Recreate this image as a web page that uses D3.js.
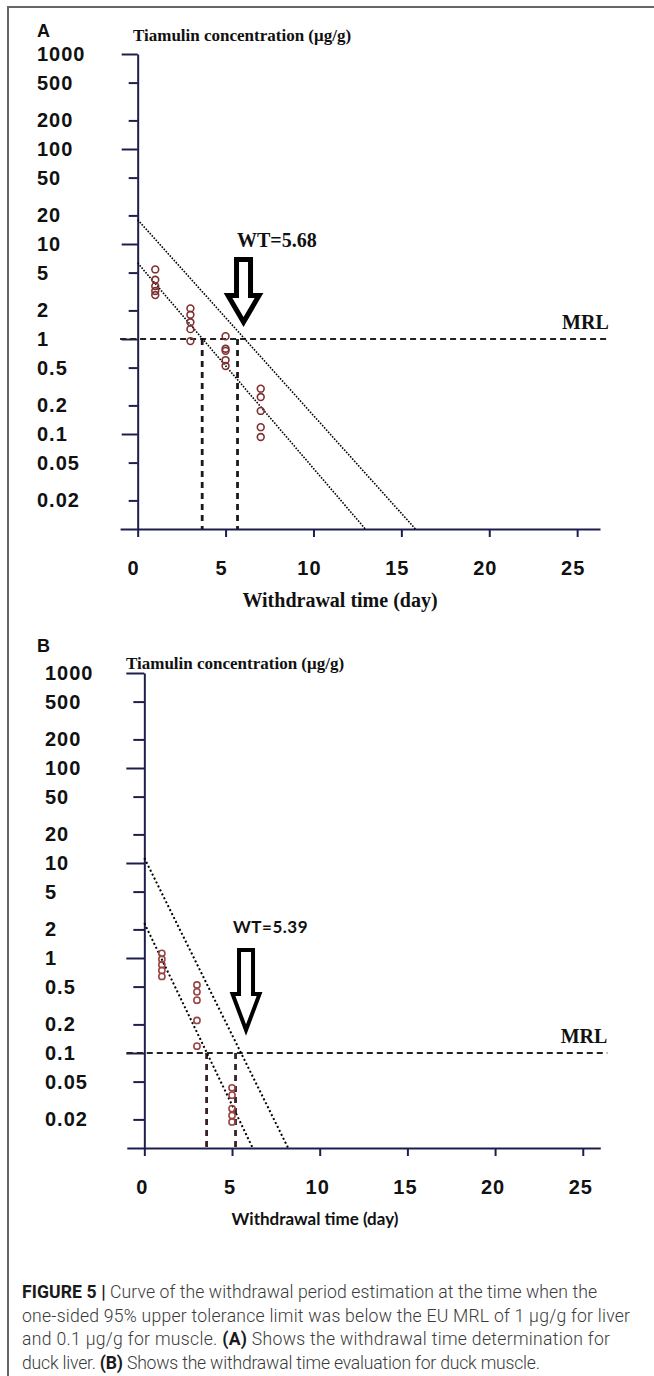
<!DOCTYPE html>
<html>
<head>
<meta charset="utf-8">
<script src="https://cdn.jsdelivr.net/npm/d3@7"></script>
<style>
  body { margin: 0; background: #fff; }
  svg { display: block; }
</style>
</head>
<body>
<svg width="654" height="1376"></svg>
<script>
// tick values shared by both panels
var yTickValues = [1000, 500, 200, 100, 50, 20, 10, 5, 2, 1, 0.5, 0.2, 0.1, 0.05, 0.02];
var yTickLabels = ["1000", "500", "200", "100", "50", "20", "10", "5", "2", "1", "0.5", "0.2", "0.1", "0.05", "0.02"];
var yMajorTicks = [1000, 100, 10, 1, 0.1];
var xTickValues = [0, 5, 10, 15, 20, 25];

// (A) duck liver
var liverDays = [1, 1, 1, 1, 1, 3, 3, 3, 3, 3, 5, 5, 5, 5, 5, 7, 7, 7, 7, 7];
var liverConc = [5.4, 4.2, 3.6, 3.2, 2.9, 2.1, 1.8, 1.5, 1.27, 0.95, 1.07, 0.79, 0.75, 0.6, 0.52, 0.3, 0.245, 0.175, 0.118, 0.093];
var liverRegression = [[0, 6.3], [12.95, 0.01]];
var liverTolerance = [[0, 18], [15.8, 0.01]];
var liverCrossDays = [3.67, 5.68];
var liverMRL = 1;

// (B) duck muscle
var muscleDays = [1, 1, 1, 1, 1, 3, 3, 3, 3, 3, 5, 5, 5, 5, 5];
var muscleConc = [1.12, 0.97, 0.85, 0.74, 0.64, 0.52, 0.44, 0.36, 0.22, 0.118, 0.043, 0.036, 0.026, 0.022, 0.0188];
var muscleRegression = [[0, 2.33], [6.18, 0.01]];
var muscleTolerance = [[0, 11.3], [8.2, 0.01]];
var muscleCrossDays = [3.55, 5.2];
var muscleMRL = 0.1;

var svg = d3.select("svg");
var AXIS = "#1e1e4e";
var SERIF = "'Liberation Serif', 'Times New Roman', serif";
var SANS = "'Liberation Sans', Arial, sans-serif";

// frame of the figure
svg.append("path")
  .attr("d", "M8,1376 V7 H654")
  .attr("fill", "none")
  .attr("stroke", "#666")
  .attr("stroke-width", 2);

function drawPanel(p) {
  var g = svg.append("g");

  var x = d3.scaleLinear().domain(p.xDomain).range(p.xRange);
  var y = d3.scaleLog().domain([0.01, 1000]).range(p.yRange);

  // panel letter
  g.append("text")
    .attr("x", 37).attr("y", p.letterY)
    .attr("font-family", SANS).attr("font-weight", "bold")
    .attr("font-size", 18).attr("fill", "#111")
    .text(p.letter);

  // y title
  g.append("text")
    .attr("x", p.titleX).attr("y", p.titleY)
    .attr("font-family", SERIF).attr("font-weight", "bold")
    .attr("font-size", 17).attr("fill", "#111")
    .text("Tiamulin concentration (\u03bcg/g)");

  // y axis
  var yAxis = g.append("g")
    .attr("transform", "translate(" + x(0) + ",0)")
    .call(d3.axisLeft(y).tickValues(yTickValues).tickFormat("").tickSizeOuter(0));
  yAxis.selectAll(".tick line")
    .attr("x2", function(d) { return yMajorTicks.indexOf(d) >= 0 ? -p.majorTick : -p.minorTick; });
  yAxis.selectAll("path, line").attr("stroke", AXIS).attr("stroke-width", 2);

  g.selectAll(".ylab")
    .data(yTickValues)
    .enter().append("text")
    .attr("x", p.yLabelX)
    .attr("y", function(d) { return y(d) + 7; })
    .attr("font-family", SANS).attr("font-weight", "bold")
    .attr("font-size", 20).attr("letter-spacing", 1).attr("fill", "#111")
    .text(function(d, i) { return yTickLabels[i]; });

  // x axis
  var xAxis = g.append("g")
    .attr("transform", "translate(0," + y(0.01) + ")")
    .call(d3.axisBottom(x).tickValues(xTickValues).tickFormat("").tickSize(8).tickSizeOuter(0));
  xAxis.selectAll("path, line").attr("stroke", AXIS).attr("stroke-width", 2);

  g.selectAll(".xlab")
    .data(xTickValues)
    .enter().append("text")
    .attr("x", function(d) { return x(d) + p.xLabelShift; })
    .attr("y", y(0.01) + 46)
    .attr("text-anchor", "middle")
    .attr("font-family", SANS).attr("font-weight", "bold")
    .attr("font-size", 20).attr("letter-spacing", 1).attr("fill", "#111")
    .text(function(d) { return d; });

  g.append("text")
    .attr("x", p.xTitleX).attr("y", p.xTitleY)
    .attr("text-anchor", "middle")
    .attr("font-family", p.xTitleFont).attr("font-weight", "bold")
    .attr("font-size", p.xTitleSize).attr("fill", "#111")
    .text("Withdrawal time (day)");

  // MRL line
  g.append("line")
    .attr("x1", x(-1)).attr("x2", x(p.mrlEnd))
    .attr("y1", y(p.mrl)).attr("y2", y(p.mrl))
    .attr("stroke", "#222").attr("stroke-width", 2)
    .attr("stroke-dasharray", "6 4");
  g.append("text")
    .attr("x", x(p.mrlEnd)).attr("y", y(p.mrl) - 10)
    .attr("text-anchor", "end")
    .attr("font-family", SERIF).attr("font-weight", "bold")
    .attr("font-size", 20).attr("fill", "#111")
    .text("MRL");

  // drops from MRL to x axis
  g.selectAll(".drop")
    .data(p.crossDays)
    .enter().append("line")
    .attr("x1", function(d) { return x(d); })
    .attr("x2", function(d) { return x(d); })
    .attr("y1", y(p.mrl)).attr("y2", y(0.01))
    .attr("stroke", p.dropColor).attr("stroke-width", 2.8)
    .attr("stroke-dasharray", "6 5");

  // regression line and upper tolerance limit
  var line = d3.line()
    .x(function(d) { return x(d[0]); })
    .y(function(d) { return y(d[1]); });
  [p.regression, p.tolerance].forEach(function(pts) {
    g.append("path")
      .attr("d", line(pts))
      .attr("fill", "none")
      .attr("stroke", "#000")
      .attr("stroke-width", p.dotWidth)
      .attr("stroke-dasharray", p.dotDash);
  });

  // observations
  g.selectAll(".obs")
    .data(p.days)
    .enter().append("circle")
    .attr("cx", function(d) { return x(d); })
    .attr("cy", function(d, i) { return y(p.conc[i]); })
    .attr("r", p.r)
    .attr("fill", "none")
    .attr("stroke", p.dotColor)
    .attr("stroke-width", 1.6);

  // withdrawal-time arrow
  var a = p.arrow;
  var tx = x(p.crossDays[1]) + a.dx, ty = y(p.mrl) + a.dy;
  var headTop = ty - a.head, shaftTop = headTop - a.shaft;
  g.append("path")
    .attr("d", "M" + (tx - a.sw) + "," + shaftTop +
      "H" + (tx + a.sw) + "V" + headTop + "H" + (tx + a.hw) +
      "L" + tx + "," + ty + "L" + (tx - a.hw) + "," + headTop +
      "H" + (tx - a.sw) + "Z")
    .attr("fill", "#fff")
    .attr("stroke", "#000")
    .attr("stroke-width", a.stroke)
    .attr("stroke-linejoin", "miter");

  g.append("text")
    .attr("x", p.wtX).attr("y", p.wtY)
    .attr("font-family", p.wtFont).attr("font-weight", "bold")
    .attr("font-size", p.wtSize).attr("letter-spacing", p.wtSpacing).attr("fill", "#111")
    .text(p.wtText);
}

drawPanel({
  letter: "A", letterY: 37,
  titleX: 133, titleY: 41,
  xDomain: [-1, 26.3], xRange: [120.1, 600],
  yRange: [529, 54],
  majorTick: 16, minorTick: 9,
  yLabelX: 37, xLabelShift: -4,
  xTitleX: 340, xTitleY: 607, xTitleFont: SERIF, xTitleSize: 20,
  mrl: liverMRL, mrlEnd: 26.8,
  crossDays: liverCrossDays, dropColor: "#1a1a1a",
  regression: liverRegression, tolerance: liverTolerance,
  dotWidth: 1.6, dotDash: "1.6 1.4",
  days: liverDays, conc: liverConc, r: 3.4, dotColor: "#7e2f2f",
  arrow: { dx: 6, dy: -17, head: 26.5, shaft: 36, sw: 7, hw: 15.5, stroke: 5 },
  wtX: 237, wtY: 247, wtFont: SERIF, wtSize: 20, wtSpacing: 0, wtText: "WT=5.68"
});

drawPanel({
  letter: "B", letterY: 652,
  titleX: 126, titleY: 669,
  xDomain: [-1, 26], xRange: [126.8, 600.3],
  yRange: [1148, 673],
  majorTick: 18, minorTick: 11,
  yLabelX: 45, xLabelShift: -2,
  xTitleX: 315, xTitleY: 1225, xTitleFont: "Lato, 'Open Sans', sans-serif", xTitleSize: 17,
  mrl: muscleMRL, mrlEnd: 26.4,
  crossDays: muscleCrossDays, dropColor: "#3a2026",
  regression: muscleRegression, tolerance: muscleTolerance,
  dotWidth: 2, dotDash: "2 2.4",
  days: muscleDays, conc: muscleConc, r: 3.1, dotColor: "#9a4444",
  arrow: { dx: 10.5, dy: -23, head: 36, shaft: 44, sw: 7, hw: 13.5, stroke: 4 },
  wtX: 233, wtY: 933, wtFont: "Lato, 'Open Sans', sans-serif", wtSize: 17, wtSpacing: 0.5, wtText: "WT=5.39"
});

// caption
var captionLines = [
  [["FIGURE 5 | ", true], ["Curve of the withdrawal period estimation at the time when the", false]],
  [["one-sided 95% upper tolerance limit was below the EU MRL of 1 \u03bcg/g for liver", false]],
  [["and 0.1 \u03bcg/g for muscle. ", false], ["(A)", true], [" Shows the withdrawal time determination for", false]],
  [["duck liver. ", false], ["(B)", true], [" Shows the withdrawal time evaluation for duck muscle.", false]]
];
var captionWidths = [575, 608, 588, 518];
var caption = svg.append("g");
captionLines.forEach(function(parts, i) {
  var t = caption.append("text")
    .attr("x", 22).attr("y", 1298 + i * 23.5)
    .attr("font-family", "Roboto, 'Liberation Sans', sans-serif")
    .attr("font-size", 17.6).attr("fill", "#3a3a3a")
    .attr("textLength", captionWidths[i])
    .attr("lengthAdjust", "spacing");
  parts.forEach(function(part) {
    t.append("tspan")
      .attr("font-weight", part[1] ? "bold" : 300)
      .attr("fill", part[1] ? "#1a1a1a" : "#3a3a3a")
      .text(part[0]);
  });
});
</script>
</body>
</html>
